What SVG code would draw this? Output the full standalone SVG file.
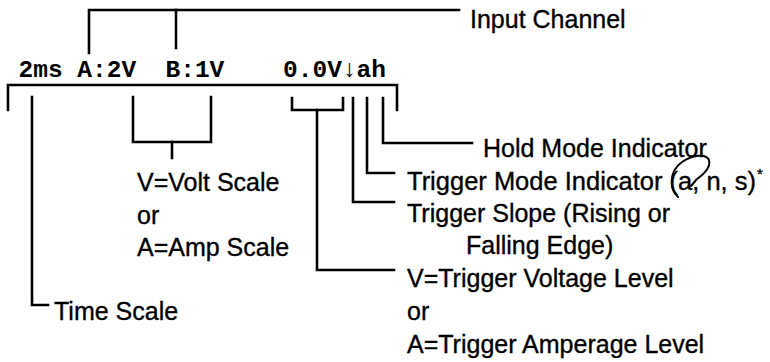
<svg xmlns="http://www.w3.org/2000/svg" width="770" height="362" viewBox="0 0 770 362">
<style>
.bg{fill:#ffffff}
.ln{fill:none;stroke:#000;stroke-width:2.6;stroke-linecap:square;stroke-linejoin:miter}
.lbl{font-family:"Liberation Sans",Arial,Helvetica,sans-serif;font-size:25px;fill:#000;stroke:#000;stroke-width:0.35}
.lcd{font-family:"Liberation Mono","DejaVu Sans Mono",monospace;font-size:24.5px;font-weight:bold;fill:#000}
.ink{fill:none;stroke:#000;stroke-width:2;stroke-linecap:round;stroke-linejoin:round}
</style>
<rect class="bg" x="0" y="0" width="770" height="362"/>
<g id="display">
<text class="lcd" x="18.5" y="77">2ms</text>
<text class="lcd" x="77.3" y="77">A:2V</text>
<text class="lcd" x="165.5" y="77">B:1V</text>
<text class="lcd" x="283.1" y="77">0.0V↓ah</text>
</g>
<g id="connectors">
<path class="ln" d="M89,53 V10 H459"/>
<path class="ln" d="M176,10 V48"/>
<path class="ln" d="M8,110 V85 H397 V110"/>
<path class="ln" d="M32,97 V305 H48"/>
<path class="ln" d="M133,97 V142 H211 V97"/>
<path class="ln" d="M172,142 V158"/>
<path class="ln" d="M292,98 V110 H343 V98"/>
<path class="ln" d="M317,110 V270 H394"/>
<path class="ln" d="M353,98 V202 H394"/>
<path class="ln" d="M367,98 V173 H394"/>
<path class="ln" d="M383,98 V143 H472"/>
</g>
<g id="input-channel"><text class="lbl" x="470" y="28">Input Channel</text></g>
<g id="time-scale"><text class="lbl" x="54" y="320">Time Scale</text></g>
<g id="volt-scale">
<text class="lbl" x="137" y="191">V=Volt Scale</text>
<text class="lbl" x="137" y="224">or</text>
<text class="lbl" x="137" y="256">A=Amp Scale</text>
</g>
<g id="hold-mode"><text class="lbl" x="483" y="157">Hold Mode Indicator</text></g>
<g id="trigger-mode">
<text class="lbl" x="407" y="190" textLength="349" lengthAdjust="spacingAndGlyphs">Trigger Mode Indicator (a, n, s)</text>
<text class="lbl" x="757" y="179" style="font-size:15px">*</text>
<path class="ink" d="M678,197 C670,190 668,172 682,162 C692,155 706,153 709,160 C711,167 704,174 697,179 L691,186"/>
</g>
<g id="trigger-slope">
<text class="lbl" x="407" y="222">Trigger Slope (Rising or</text>
<text class="lbl" x="466" y="254">Falling Edge)</text>
</g>
<g id="trigger-level">
<text class="lbl" x="407" y="287">V=Trigger Voltage Level</text>
<text class="lbl" x="407" y="320">or</text>
<text class="lbl" x="407" y="353">A=Trigger Amperage Level</text>
</g>
</svg>
